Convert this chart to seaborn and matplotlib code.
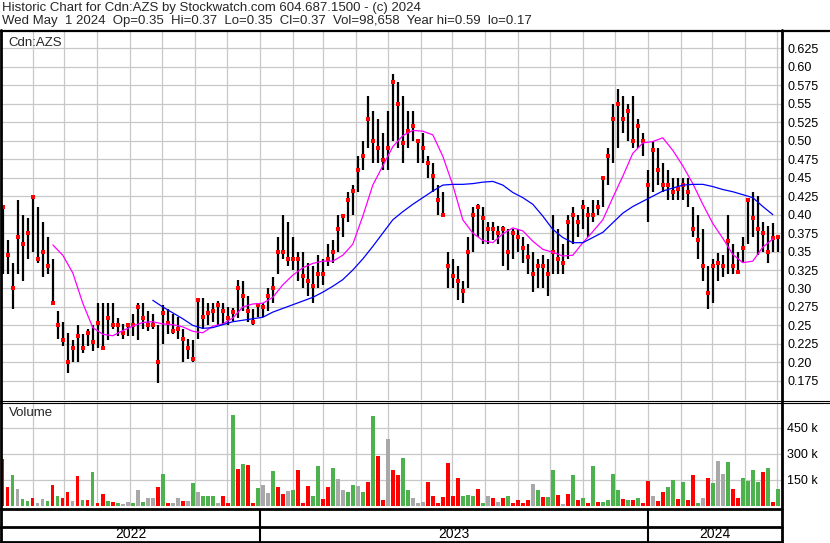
import matplotlib

matplotlib.use("Agg")

import matplotlib.pyplot as plt
import matplotlib.dates as mdates
from matplotlib.lines import Line2D
import numpy as np
import pandas as pd
import seaborn as sns


W, H = 830, 543

# roughly one bar per ~3 trading days, May 2022 -> May 1 2024
highs = [
    0.412, 0.365, 0.335, 0.42, 0.40, 0.395, 0.426, 0.41, 0.39, 0.37, 0.34, 0.27, 0.255, 0.24, 0.23, 0.25, 0.238, 0.245, 0.25,
    0.28, 0.28, 0.28, 0.28, 0.26, 0.252, 0.252, 0.265, 0.28, 0.28, 0.27, 0.265, 0.25, 0.278, 0.272, 0.265, 0.262, 0.245,
    0.232, 0.23, 0.287, 0.287, 0.28, 0.28, 0.283, 0.28, 0.275, 0.273, 0.312, 0.31, 0.29, 0.272, 0.28, 0.28, 0.30, 0.315, 0.37,
    0.40, 0.39, 0.37, 0.35, 0.35, 0.335, 0.33, 0.345, 0.34, 0.36, 0.365, 0.40, 0.40, 0.43, 0.44, 0.48, 0.50, 0.56, 0.54, 0.53,
    0.51, 0.54, 0.59, 0.58, 0.56, 0.54, 0.54, 0.50, 0.51, 0.48, 0.47, 0.44, 0.43, 0.35, 0.34, 0.33, 0.31, 0.37, 0.41, 0.415,
    0.41, 0.39, 0.39, 0.385, 0.385, 0.38, 0.38, 0.38, 0.37, 0.36, 0.35, 0.34, 0.345, 0.34, 0.40, 0.38, 0.36, 0.40, 0.41, 0.40,
    0.42, 0.41, 0.42, 0.42, 0.45, 0.49, 0.55, 0.57, 0.56, 0.55, 0.56, 0.53, 0.51, 0.46, 0.50, 0.49, 0.47, 0.46, 0.45, 0.45,
    0.45, 0.45, 0.41, 0.40, 0.38, 0.33, 0.34, 0.348, 0.345, 0.40, 0.36, 0.35, 0.37, 0.42, 0.43, 0.425, 0.39, 0.385, 0.388, 0.37,
]
lows = [
    0.32, 0.32, 0.272, 0.32, 0.31, 0.34, 0.35, 0.335, 0.315, 0.32, 0.28, 0.232, 0.222, 0.185, 0.20, 0.20, 0.212, 0.222, 0.215,
    0.22, 0.22, 0.23, 0.245, 0.235, 0.232, 0.235, 0.235, 0.23, 0.245, 0.242, 0.245, 0.172, 0.225, 0.238, 0.238, 0.232, 0.20,
    0.205, 0.20, 0.232, 0.245, 0.25, 0.255, 0.25, 0.25, 0.25, 0.256, 0.26, 0.27, 0.255, 0.25, 0.262, 0.262, 0.27, 0.28, 0.32,
    0.34, 0.33, 0.325, 0.31, 0.30, 0.29, 0.28, 0.30, 0.305, 0.33, 0.335, 0.35, 0.37, 0.39, 0.40, 0.43, 0.46, 0.49, 0.47, 0.47,
    0.46, 0.46, 0.50, 0.49, 0.47, 0.49, 0.50, 0.47, 0.47, 0.45, 0.43, 0.40, 0.40, 0.30, 0.30, 0.285, 0.28, 0.30, 0.35, 0.37,
    0.36, 0.36, 0.365, 0.36, 0.33, 0.325, 0.34, 0.35, 0.335, 0.32, 0.295, 0.30, 0.30, 0.29, 0.32, 0.32, 0.32, 0.34, 0.36, 0.37,
    0.38, 0.37, 0.39, 0.40, 0.41, 0.44, 0.47, 0.49, 0.51, 0.50, 0.49, 0.49, 0.48, 0.39, 0.43, 0.44, 0.43, 0.42, 0.42, 0.42,
    0.42, 0.41, 0.37, 0.34, 0.31, 0.272, 0.28, 0.31, 0.315, 0.32, 0.32, 0.32, 0.335, 0.36, 0.37, 0.345, 0.35, 0.335, 0.35, 0.35,
]
closes = [
    0.41, 0.345, 0.30, 0.37, 0.36, 0.375, 0.424, 0.34, 0.35, 0.33, 0.28, 0.25, 0.23, 0.20, 0.22, 0.235, 0.22, 0.24, 0.228,
    0.253, 0.22, 0.26, 0.25, 0.25, 0.24, 0.25, 0.25, 0.275, 0.26, 0.25, 0.25, 0.20, 0.267, 0.253, 0.242, 0.245, 0.232,
    0.22, 0.205, 0.285, 0.262, 0.267, 0.27, 0.278, 0.27, 0.26, 0.268, 0.30, 0.29, 0.27, 0.255, 0.278, 0.275, 0.29, 0.30, 0.35,
    0.35, 0.34, 0.34, 0.34, 0.317, 0.31, 0.303, 0.32, 0.319, 0.34, 0.35, 0.38, 0.398, 0.42, 0.432, 0.46, 0.48, 0.53, 0.50, 0.49,
    0.474, 0.49, 0.58, 0.55, 0.497, 0.513, 0.52, 0.50, 0.49, 0.47, 0.452, 0.42, 0.40, 0.33, 0.317, 0.31, 0.297, 0.35, 0.40, 0.41,
    0.396, 0.38, 0.38, 0.375, 0.38, 0.349, 0.375, 0.37, 0.355, 0.342, 0.32, 0.33, 0.33, 0.32, 0.349, 0.34, 0.335, 0.39, 0.40, 0.39,
    0.41, 0.40, 0.40, 0.41, 0.45, 0.479, 0.53, 0.55, 0.53, 0.54, 0.50, 0.52, 0.50, 0.44, 0.488, 0.46, 0.44, 0.44, 0.43, 0.435,
    0.44, 0.43, 0.38, 0.366, 0.33, 0.294, 0.33, 0.335, 0.33, 0.364, 0.33, 0.322, 0.355, 0.42, 0.395, 0.38, 0.375, 0.35, 0.368, 0.37,
]

# moving averages, read at every second bar
ma_short = [None] * 5 + [
    0.359, 0.345, 0.321, 0.28, 0.247, 0.238, 0.236, 0.243, 0.249, 0.254, 0.255, 0.252, 0.251, 0.248, 0.242,
    0.24, 0.249, 0.252, 0.26, 0.275, 0.279, 0.28, 0.288, 0.305, 0.318, 0.328, 0.334, 0.337, 0.337, 0.345,
    0.36, 0.398, 0.44, 0.466, 0.492, 0.507, 0.514, 0.513, 0.508, 0.479, 0.44, 0.393, 0.375, 0.365, 0.362,
    0.374, 0.382, 0.378, 0.364, 0.353, 0.349, 0.344, 0.345, 0.362, 0.377, 0.393, 0.423, 0.452, 0.483, 0.497,
    0.499, 0.504, 0.487, 0.466, 0.442, 0.414, 0.388, 0.368, 0.346, 0.335, 0.337, 0.356, 0.367,
]
ma_long = [None] * 15 + [
    0.284, 0.275, 0.267, 0.259, 0.25, 0.246, 0.247, 0.251, 0.255, 0.257, 0.259, 0.261, 0.268, 0.273, 0.278,
    0.283, 0.288, 0.295, 0.303, 0.312, 0.325, 0.34, 0.357, 0.375, 0.393, 0.404, 0.414, 0.423, 0.432, 0.44,
    0.441, 0.441, 0.442, 0.444, 0.445, 0.44, 0.43, 0.423, 0.414, 0.398, 0.38, 0.369, 0.362, 0.362, 0.369,
    0.376, 0.389, 0.402, 0.411, 0.418, 0.425, 0.432, 0.436, 0.44, 0.441, 0.441, 0.438, 0.434, 0.431, 0.427,
    0.423, 0.411, 0.40,
]

volume_k = [
    270, 110, 180, 100, 40, 30, 48, 20, 40, 30, 120, 55, 45, 80, 30, 175, 34, 33, 195,
    15, 70, 30, 25, 15, 12, 25, 15, 90, 25, 45, 45, 110, 185, 15, 15, 45, 30, 30, 130,
    80, 55, 55, 55, 15, 57, 15, 525, 215, 240, 235, 15, 105, 120, 75, 200, 110,
    70, 85, 95, 205, 20, 115, 60, 230, 40, 110, 220, 155, 90, 82, 120, 115, 80, 140, 520, 290,
    35, 385, 210, 180, 275, 90, 45, 15, 25, 140, 60, 20, 50, 250, 55, 163, 55, 65, 60, 100,
    15, 55, 45, 25, 45, 55, 20, 35, 20, 35, 125, 90, 50, 50, 205, 65, 10, 70, 178, 35,
    45, 20, 230, 25, 25, 35, 185, 90, 40, 35, 35, 45, 20, 145, 60, 30, 80, 110, 150, 40,
    140, 35, 178, 20, 45, 160, 130, 260, 185, 255, 100, 45, 160, 145, 210, 140, 194, 220, 25, 98,
]
# g = up day, r = down day, x = unchanged
vol_dir = list(
    "rrgxggrxxgrgrrxrgrg"
    "rrgrgxxgxgxxrgrxxrxgxgggxrrgrgrrgxxgr"
    "rxgrrrggrrgxxggxgrgrrxrrggxxxrrrrrrrgggr"
    "gxrxrgrrrrxgrggrxrgrgrgrggggrgrgrrxrrggrgrrgxrgxxgrrggggrgrg"
)

price_ticks = [0.175, 0.20, 0.225, 0.25, 0.275, 0.30, 0.325, 0.35, 0.375, 0.40,
               0.425, 0.45, 0.475, 0.50, 0.525, 0.55, 0.575, 0.60, 0.625]
vol_ticks_k = [150, 300, 450]
years = ["2022", "2023", "2024"]

title_1 = "Historic Chart for Cdn:AZS by Stockwatch.com 604.687.1500 - (c) 2024"
title_2 = "Wed May  1 2024  Op=0.35  Hi=0.37  Lo=0.35  Cl=0.37  Vol=98,658  Year hi=0.59  lo=0.17"

sns.set_theme(style="white")
plt.rcParams["font.family"] = ["Liberation Sans", "DejaVu Sans"]

GRID = "#c8c8c8"
GREEN = "#4db24d"
FS = 9

dates = pd.date_range("2022-05-04", "2024-05-02", periods=len(closes))
bars = pd.DataFrame({"date": dates, "high": highs, "low": lows, "close": closes})
vol = pd.DataFrame({"date": dates, "vol": np.array(volume_k) * 1000.0, "dir": vol_dir})
ma = pd.DataFrame({"date": dates[::2],
                   "short": pd.to_numeric(pd.Series(ma_short), errors="coerce"),
                   "long": pd.to_numeric(pd.Series(ma_long), errors="coerce")})


def fx(px):
    return px / W


def fy(py):
    return 1 - py / H


fig = plt.figure(figsize=(W / 100, H / 100), dpi=100)
ax = fig.add_axes([fx(2), fy(400), fx(779), 370 / H])
axv = fig.add_axes([fx(2), fy(506), fx(779), 104 / H], sharex=ax)
axy = fig.add_axes([fx(2), fy(542), fx(779), 32 / H], sharex=ax)

# price bars
ax.vlines(bars["date"], bars["low"], bars["high"], color="black", lw=1.6, zorder=3)
sns.scatterplot(data=bars, x="date", y="close", ax=ax, color="red", marker="s",
                s=5.5, linewidth=0, zorder=4)
sns.lineplot(data=ma.dropna(subset=["short"]), x="date", y="short", ax=ax,
             color="#ff00ff", lw=0.9, zorder=5)
sns.lineplot(data=ma.dropna(subset=["long"]), x="date", y="long", ax=ax,
             color="#0000ff", lw=0.9, zorder=5)

# volume
colors = {"g": GREEN, "r": "#ff0000", "x": "#a8a8a8"}
axv.bar(vol["date"], vol["vol"], width=3.2, color=[colors[d] for d in vol["dir"]],
        linewidth=0, zorder=3)

ax.set_xlim(pd.Timestamp("2022-05-03 06:00"), pd.Timestamp("2024-05-05"))
ax.set_ylim(0.149, 0.65)
axv.set_ylim(0, 600000)

for a in (ax, axv, axy):
    a.xaxis.set_major_locator(mdates.MonthLocator())
    a.tick_params(axis="x", length=0, labelbottom=False)
    for s in a.spines.values():
        s.set_visible(False)
    a.set_xlabel("")
    a.set_ylabel("")

ax.set_yticks(price_ticks)
ax.set_yticklabels([f"{v:.3f}"[:-1] if f"{v:.3f}".endswith("0") else f"{v:.3f}" for v in price_ticks])
axv.set_yticks([v * 1000 for v in vol_ticks_k])
axv.set_yticklabels([f"{v} k" for v in vol_ticks_k])
for a in (ax, axv):
    a.yaxis.tick_right()
    a.tick_params(axis="y", length=0, pad=4.5, labelsize=FS, labelcolor="black")
    a.grid(True, color=GRID, lw=0.9)
    a.set_axisbelow(True)

axy.set_yticks([])
axy.grid(False)
axy.set_ylim(0, 1)
for yr in years[1:]:
    axy.axvline(pd.Timestamp(f"{yr}-01-01"), color="black", lw=1.5)
x0, x1 = ax.get_xlim()
edges = [x0] + [mdates.date2num(pd.Timestamp(f"{yr}-01-01")) for yr in years[1:]] + [x1]
for i, yr in enumerate(years):
    axy.text((edges[i] + edges[i + 1]) / 2, 0.24, yr, ha="center", va="center",
             fontsize=FS + 1, color="black")


# frame lines (pixel layout of the original chart)
def hline(py, px0, px1, lw):
    fig.add_artist(Line2D([fx(px0), fx(px1)], [fy(py), fy(py)], color="black", lw=lw,
                          transform=fig.transFigure))


def vline(px, py0, py1, lw):
    fig.add_artist(Line2D([fx(px), fx(px)], [fy(py0), fy(py1)], color="black", lw=lw,
                          transform=fig.transFigure))


hline(30.5, 0, W, 1.6)
hline(400.5, 0, W, 0.8)
hline(403, 0, W, 0.8)
hline(508.5, 0, 782, 2.0)
hline(526.5, 0, 782, 2.0)
hline(541.5, 0, 782, 2.0)
vline(1, 30, 543, 2.0)
vline(781.5, 30, 543, 2.0)

fig.text(fx(2), fy(8), title_1, fontsize=FS + 0.5, va="center", ha="left")
fig.text(fx(2), fy(21), title_2, fontsize=FS + 0.5, va="center", ha="left")
fig.text(fx(8), fy(43), "Cdn:AZS", fontsize=FS + 0.5, va="center", ha="left")
fig.text(fx(9), fy(413), "Volume", fontsize=FS + 0.5, va="center", ha="left")

fig.savefig("out.png", dpi=100, facecolor="white")
